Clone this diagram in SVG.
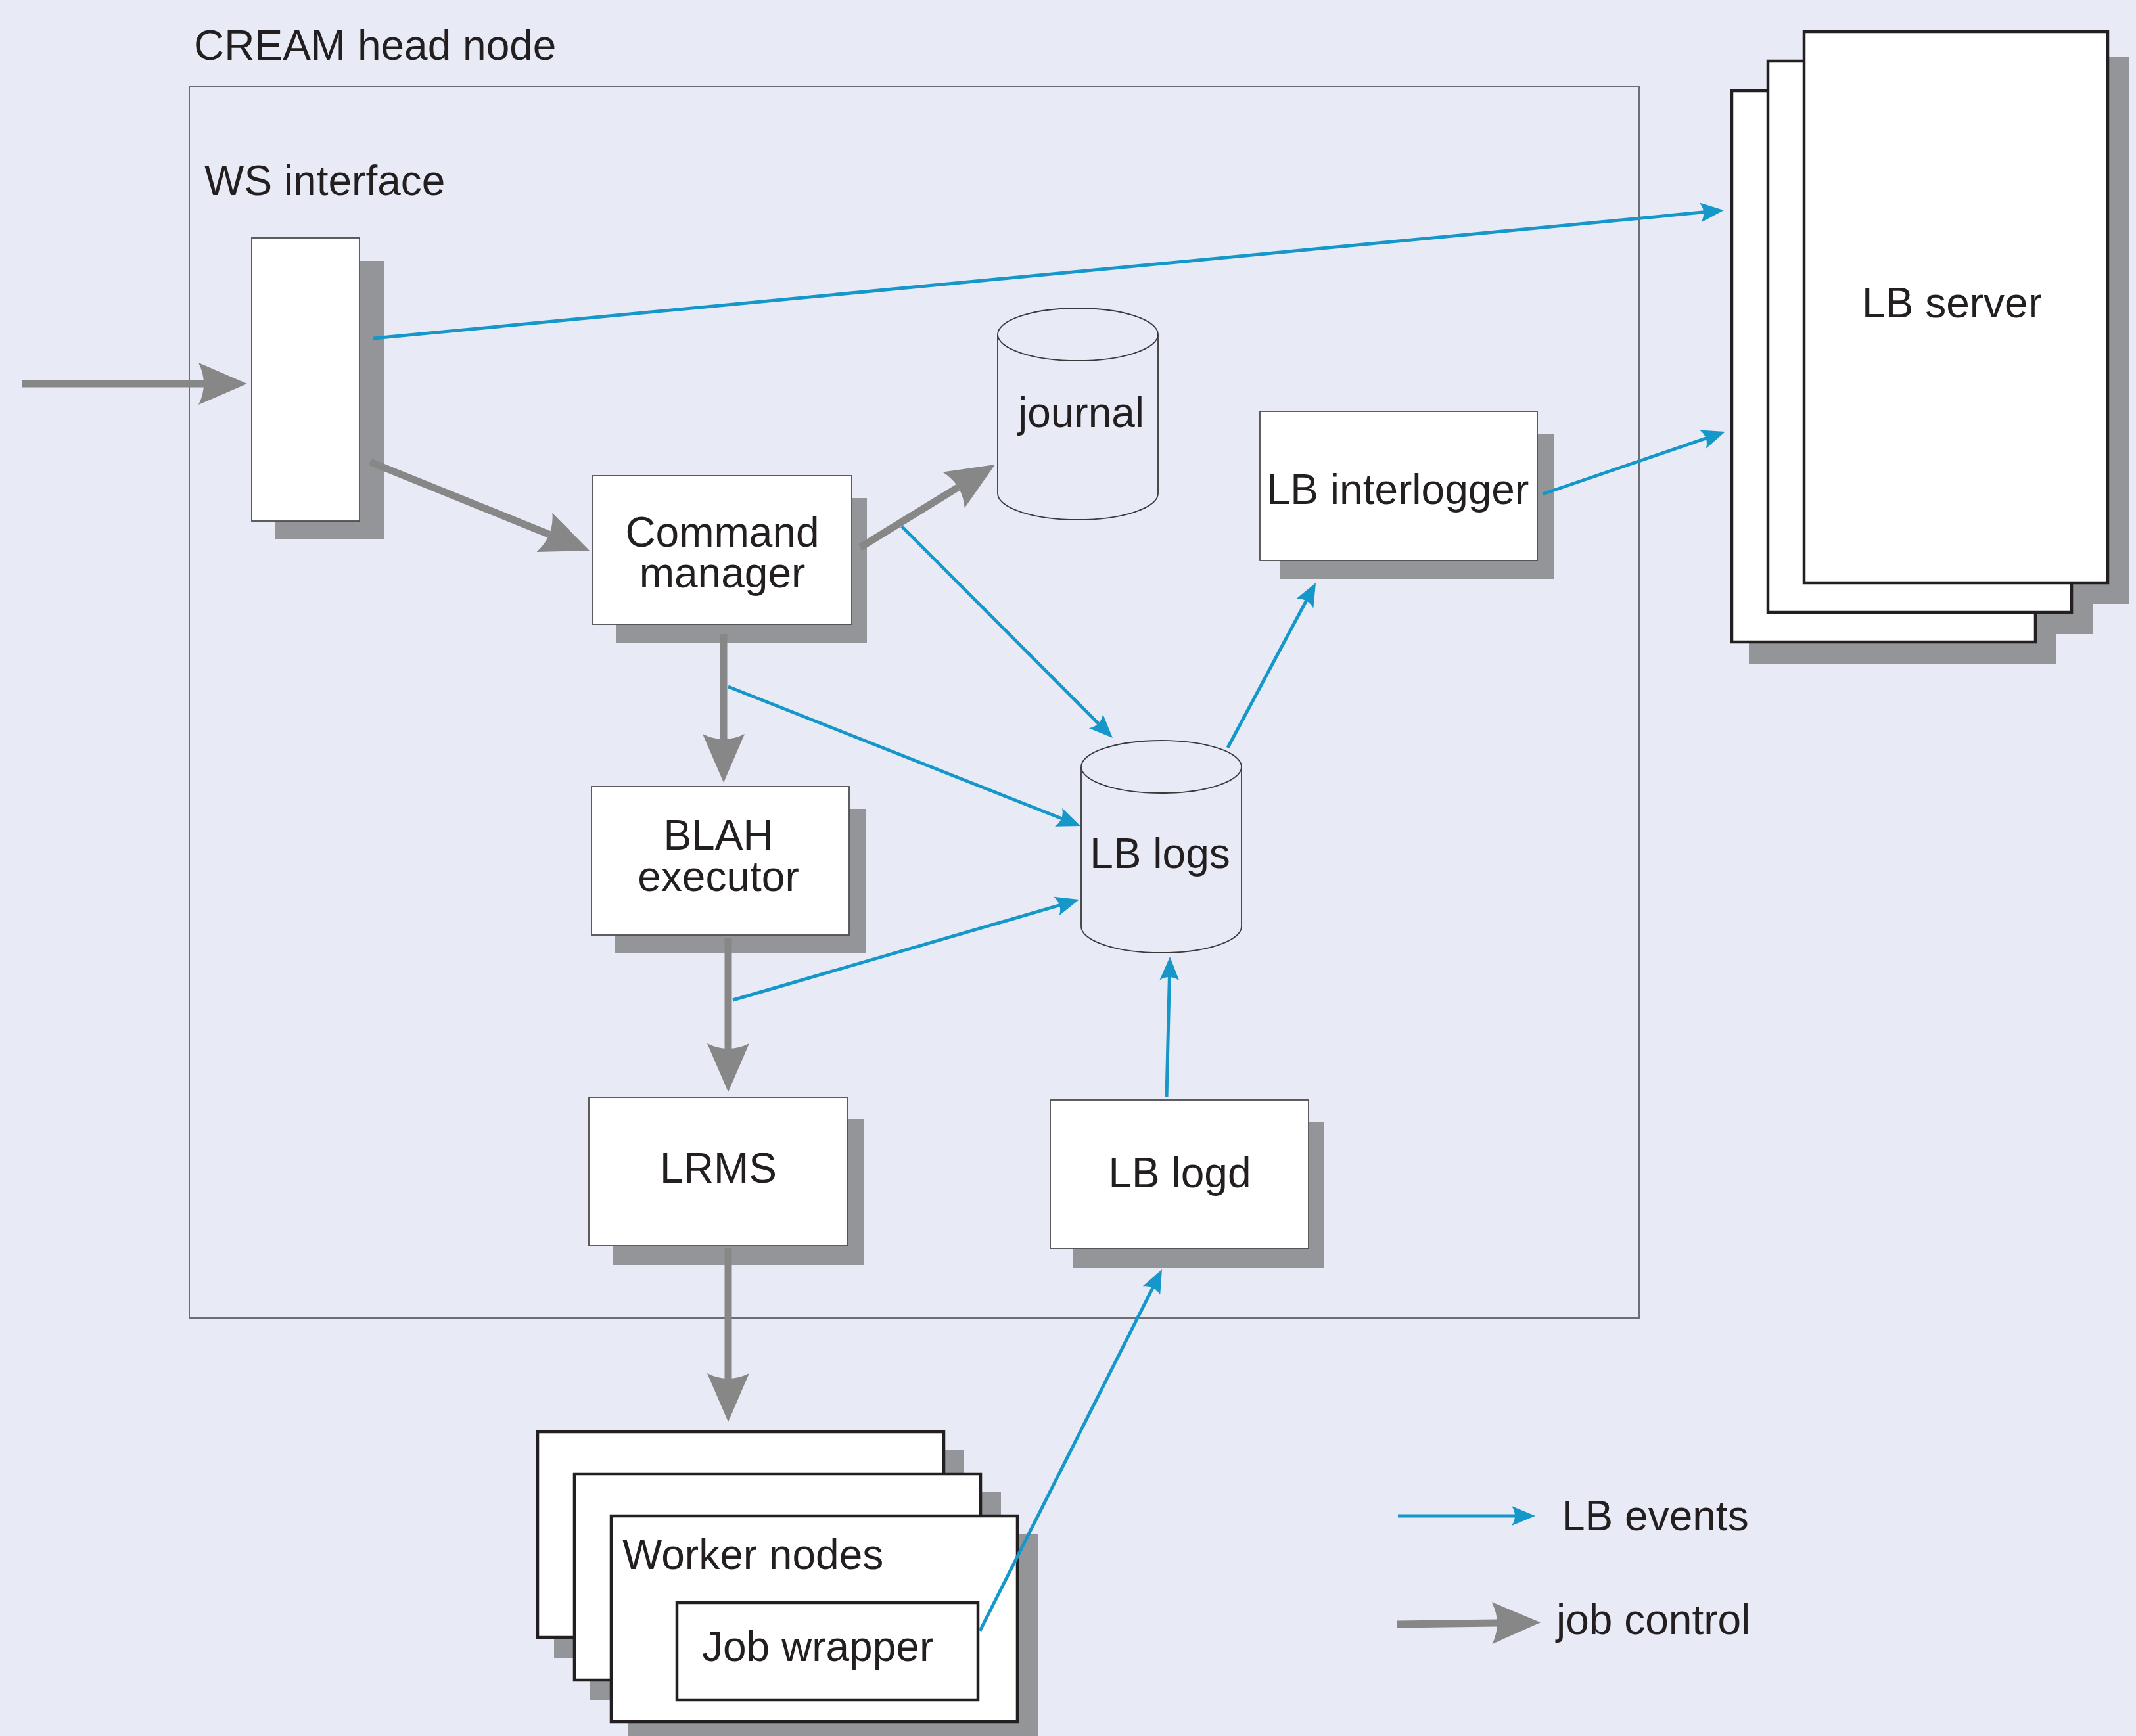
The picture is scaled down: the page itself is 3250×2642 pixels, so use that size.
<svg xmlns="http://www.w3.org/2000/svg" width="3250" height="2642" viewBox="0 0 3250 2642">
<style>
text{font-family:"Liberation Sans",Arial,sans-serif;font-size:64px;fill:#231f20}
.mid{text-anchor:middle}
.sh{fill:#939598}
.box{fill:#fff;stroke:#4d4d4f;stroke-width:1.8}
.page{fill:#fff;stroke:#231f20;stroke-width:4.5}
.cyl{fill:none;stroke:#3a3a3c;stroke-width:1.8}
.blue{fill:none;stroke:#1597c9;stroke-width:5}
.gray{fill:none;stroke:#868786;stroke-width:11}
</style>
<defs>
<marker id="ab" markerUnits="userSpaceOnUse" viewBox="0 0 36 30" refX="6" refY="15" markerWidth="36" markerHeight="30" orient="auto">
<path d="M0,0 L36,15 L0,30 Q10,15 0,0 Z" fill="#1597c9"/>
</marker>
<marker id="ag" markerUnits="userSpaceOnUse" viewBox="0 0 74 64" refX="8" refY="32" markerWidth="74" markerHeight="64" orient="auto">
<path d="M0,0 L74,32 L0,64 Q16,32 0,0 Z" fill="#868786"/>
</marker>
</defs>
<rect width="3250" height="2642" fill="#e8ebf5"/>

<g id="cream-head-node">
<text x="295" y="91">CREAM head node</text>
<rect x="288" y="132" width="2206" height="1874" fill="none" stroke="#6d6e71" stroke-width="2"/>
</g>

<g id="ws-interface">
<text x="311" y="297">WS interface</text>
<rect class="sh" x="418" y="397" width="167" height="424"/>
<rect class="box" x="383" y="362" width="164" height="431"/>
</g>

<g id="command-manager">
<rect class="sh" x="938" y="758" width="381" height="220"/>
<rect class="box" x="902" y="724" width="394" height="226"/>
<text class="mid" x="1099" y="832">Command</text>
<text class="mid" x="1099" y="894">manager</text>
</g>

<g id="journal">
<ellipse class="cyl" cx="1640" cy="509" rx="122" ry="40"/>
<path class="cyl" d="M1518,509 L1518,751 A122,40 0 0,0 1762,751 L1762,509"/>
<text class="mid" x="1645" y="650">journal</text>
</g>

<g id="lb-interlogger">
<rect class="sh" x="1947" y="660" width="418" height="221"/>
<rect class="box" x="1917" y="626" width="422" height="227"/>
<text class="mid" x="2127" y="767">LB interlogger</text>
</g>

<g id="lb-server">
<rect class="sh" x="2661" y="171" width="468" height="839"/>
<rect class="sh" x="2716" y="126" width="468" height="839"/>
<rect class="sh" x="2771" y="86" width="468" height="833"/>
<rect class="page" x="2635" y="138" width="462" height="839"/>
<rect class="page" x="2690" y="93" width="462" height="839"/>
<rect class="page" x="2745" y="48" width="462" height="839"/>
<text class="mid" x="2970" y="483">LB server</text>
</g>

<g id="blah-executor">
<rect class="sh" x="935" y="1231" width="382" height="220"/>
<rect class="box" x="900" y="1197" width="392" height="226"/>
<text class="mid" x="1093" y="1293">BLAH</text>
<text class="mid" x="1093" y="1356">executor</text>
</g>

<g id="lb-logs">
<ellipse class="cyl" cx="1767" cy="1167" rx="122" ry="40"/>
<path class="cyl" d="M1645,1167 L1645,1410 A122,40 0 0,0 1889,1410 L1889,1167"/>
<text class="mid" x="1765" y="1321">LB logs</text>
</g>

<g id="lrms">
<rect class="sh" x="932" y="1703" width="382" height="222"/>
<rect class="box" x="896" y="1670" width="393" height="226"/>
<text class="mid" x="1093" y="1800">LRMS</text>
</g>

<g id="lb-logd">
<rect class="sh" x="1633" y="1707" width="382" height="222"/>
<rect class="box" x="1598" y="1674" width="393" height="226"/>
<text class="mid" x="1795" y="1807">LB logd</text>
</g>

<g id="worker-nodes">
<rect class="sh" x="843" y="2207" width="624" height="316"/>
<rect class="sh" x="898" y="2271" width="625" height="316"/>
<rect class="sh" x="955" y="2334" width="624" height="316"/>
<rect class="page" x="818" y="2179" width="618" height="313"/>
<rect class="page" x="874" y="2243" width="618" height="314"/>
<rect class="page" x="930" y="2307" width="618" height="313"/>
<text x="947" y="2388">Worker nodes</text>
</g>

<g id="job-wrapper">
<rect class="page" x="1030" y="2439" width="458" height="148"/>
<text x="1068" y="2528">Job wrapper</text>
</g>

<g id="connectors">
<line class="gray" x1="33" y1="584" x2="310" y2="584" marker-end="url(#ag)"/>
<line class="gray" x1="563" y1="703" x2="835.8" y2="813.3" marker-end="url(#ag)"/>
<line class="gray" x1="1309" y1="833" x2="1457.8" y2="741.6" marker-end="url(#ag)"/>
<line class="gray" x1="1101" y1="965" x2="1101" y2="1125" marker-end="url(#ag)"/>
<line class="gray" x1="1108" y1="1428" x2="1108" y2="1596" marker-end="url(#ag)"/>
<line class="gray" x1="1108" y1="1900" x2="1108" y2="2098" marker-end="url(#ag)"/>

<line class="blue" x1="568" y1="515" x2="2593.1" y2="322.8" marker-end="url(#ab)"/>
<line class="blue" x1="2347" y1="752" x2="2596.6" y2="666.7" marker-end="url(#ab)"/>
<line class="blue" x1="1372" y1="801" x2="1671.8" y2="1101.8" marker-end="url(#ab)"/>
<line class="blue" x1="1108" y1="1045" x2="1616.1" y2="1246" marker-end="url(#ab)"/>
<line class="blue" x1="1115" y1="1522" x2="1613.2" y2="1377.4" marker-end="url(#ab)"/>
<line class="blue" x1="1868" y1="1138" x2="1987.9" y2="913.5" marker-end="url(#ab)"/>
<line class="blue" x1="1775" y1="1670" x2="1779.4" y2="1486" marker-end="url(#ab)"/>
<line class="blue" x1="1491" y1="2482" x2="1754.5" y2="1958.8" marker-end="url(#ab)"/>
</g>

<g id="legend">
<line class="blue" x1="2127" y1="2307" x2="2306" y2="2307" marker-end="url(#ab)"/>
<text x="2376" y="2329">LB events</text>
<line class="gray" x1="2126" y1="2472" x2="2278" y2="2470" marker-end="url(#ag)"/>
<text x="2368" y="2487">job control</text>
</g>
</svg>
